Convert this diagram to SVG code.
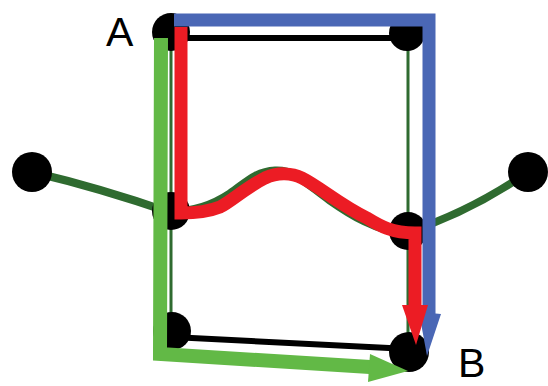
<svg xmlns="http://www.w3.org/2000/svg" width="548" height="386" viewBox="0 0 548 386">
<style>
.blk{stroke:#000;stroke-width:6;fill:none}
.dg{stroke:#2f6b30;fill:none}
.node{fill:#000}
.lbl{font-family:"Liberation Sans",Arial,sans-serif;font-size:41px;fill:#000}
.red{stroke:#ec1c24;stroke-width:13;fill:none;stroke-linejoin:miter}
.blue{stroke:#4a67b5;stroke-width:13;fill:none;stroke-linejoin:miter}
.lg{stroke:#62b946;stroke-width:14;fill:none;stroke-linejoin:miter}
</style>
<rect width="548" height="386" fill="#fff"/>
<g id="connectors">
  <line class="blk" x1="172" y1="38" x2="407" y2="38"/>
  <line class="blk" x1="172" y1="337" x2="409" y2="349"/>
  <line class="dg" stroke-width="3" x1="171" y1="33" x2="171" y2="331"/>
  <line class="dg" stroke-width="3" x1="408" y1="33" x2="408" y2="352"/>
  <path class="dg" stroke-width="8" d="M32,172 Q100,188 172,213"/>
  <path class="dg" stroke-width="8" d="M408,232 Q470,212 528,172"/>
  <path class="dg" stroke-width="9" d="M172,212 C195,212 215,204 230,194 C245,184 255,172 275,171 C295,170 305,182 330,200 C350,214 375,230 408,234"/>
</g>
<g id="node-left"><circle class="node" cx="32" cy="172" r="20"/></g>
<g id="node-right"><circle class="node" cx="528" cy="172" r="20"/></g>
<g id="node-A"><circle class="node" cx="171" cy="32" r="19"/><text class="lbl" x="106" y="46">A</text></g>
<g id="node-top-right"><circle class="node" cx="407" cy="33" r="18"/></g>
<g id="node-mid-left"><circle class="node" cx="171" cy="211" r="19"/></g>
<g id="node-mid-right"><circle class="node" cx="408" cy="231" r="19"/></g>
<g id="node-bottom-left"><circle class="node" cx="172" cy="331" r="19"/></g>
<g id="node-B"><circle class="node" cx="409" cy="352" r="20"/><text class="lbl" x="458" y="377">B</text></g>
<g id="paths">
  <path class="blue" d="M174,20 H429 V314"/>
  <polygon fill="#4a67b5" points="419,312 441,314 427,356"/>
  <path class="lg" d="M161,38 L160,354 L370,367"/>
  <polygon fill="#62b946" points="370,354 368,382 408,371"/>
  <path class="red" d="M181,27 V213 C200,213 210,211 220,207 C232,201 245,188 265,178 C278,172 292,173 302,178 C320,187 340,205 367,218 C380,226 392,233 415,233 V307"/>
  <polygon fill="#ec1c24" points="402,305 428,305 416,345"/>
</g>
</svg>
